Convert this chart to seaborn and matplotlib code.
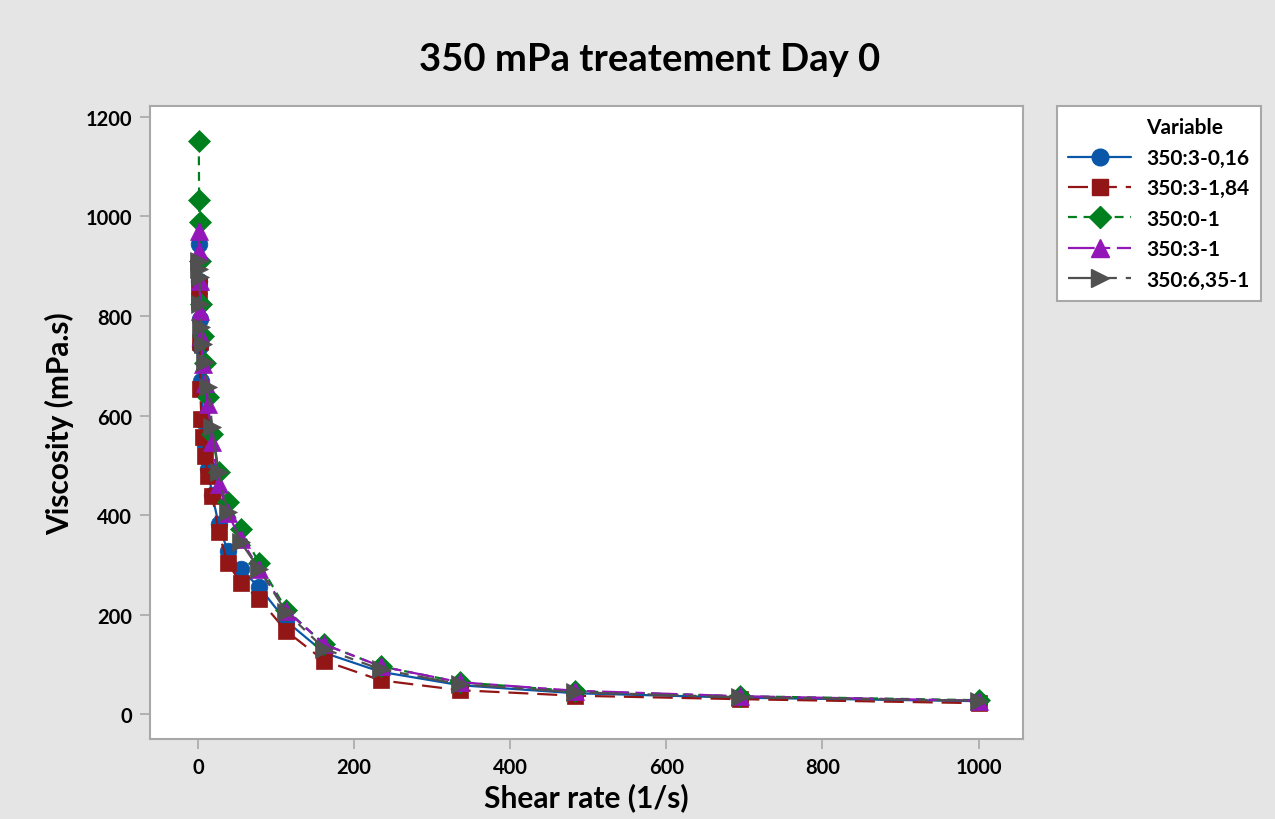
import numpy as np
import pandas as pd
import matplotlib
matplotlib.use("Agg")
import matplotlib.pyplot as plt
from matplotlib.lines import Line2D
import seaborn as sns

shear_rate = [1.0, 1.44, 2.07, 2.98, 4.28, 6.16, 8.86, 12.7, 18.3, 26.4,
              37.9, 54.6, 78.5, 113, 162, 234, 336, 483, 695, 1000]

visc_3_016 = [945, 870, 794, 740, 670, 590, 540, 492, 440, 382,
              328, 291, 255, 187, 123, 85, 58, 42, 33, 26]
visc_3_184 = [861, 830, 748, 653, 593, 557, 519, 478, 438, 366,
              304, 264, 231, 167, 107, 68, 48, 37, 30, 22]
visc_0_1 = [1152, 1033, 989, 911, 824, 760, 705, 637, 563, 486,
            426, 372, 303, 210, 140, 96, 64, 46, 36, 28]
visc_3_1 = [971, 931, 871, 810, 760, 703, 665, 623, 547, 462,
            404, 352, 292, 208, 140, 96, 64, 47, 36, 27]
visc_635_1 = [911, 895, 878, 824, 778, 744, 707, 657, 577, 486,
              406, 346, 291, 205, 131, 90, 60, 44, 34, 27]

series_names = ["350:3-0,16", "350:3-1,84", "350:0-1", "350:3-1", "350:6,35-1"]
series_values = [visc_3_016, visc_3_184, visc_0_1, visc_3_1, visc_635_1]
colors = ["#0a56a8", "#931616", "#007f1f", "#9316b8", "#505050"]
markers = ["o", "s", "D", "^", ">"]
linestyles = ["-", (0, (9, 4)), (0, (4, 3)), (0, (12, 3, 4, 3)), (0, (14, 4, 4, 4))]
msizes = [12, 12, 11, 13, 13]

sns.set_style("white")
plt.rcParams['font.family'] = ['Lato', 'DejaVu Sans']
plt.rcParams['text.color'] = 'black'
plt.rcParams['xtick.color'] = 'black'
plt.rcParams['ytick.color'] = 'black'
plt.rcParams['axes.labelcolor'] = 'black'

fig = plt.figure(figsize=(12.75, 8.2), dpi=100)
fig.patch.set_facecolor("#e5e5e5")
ax = fig.add_axes([150/1275, 1 - 740/820, (1023-150)/1275, (740-107)/820])
ax.set_facecolor("white")

handles = [Line2D([], [], linestyle="none", label="Variable")]
for name, vals, c, m, ls, ms in zip(series_names, series_values, colors, markers, linestyles, msizes):
    df = pd.DataFrame({"x": shear_rate, "y": vals})
    sns.lineplot(data=df, x="x", y="y", ax=ax, color=c, marker=m, markersize=ms,
                 markeredgecolor=c, markeredgewidth=0.5, linewidth=1.6,
                 linestyle=ls, estimator=None, sort=False)
    handles.append(Line2D([], [], color=c, marker=m, markersize=ms, markeredgecolor=c,
                          linewidth=1.6, linestyle=ls, label=name))

ax.set_xlim(-61.5, 1057)
ax.set_ylim(-50, 1222)
ax.set_xticks([0, 200, 400, 600, 800, 1000])
ax.set_yticks([0, 200, 400, 600, 800, 1000, 1200])
for s in ax.spines.values():
    s.set_color("#a8a8a8")
    s.set_linewidth(1.5)
ax.tick_params(axis="both", direction="out", length=7, width=1.2, color="#a8a8a8",
               labelsize=14.5, pad=6, bottom=True, left=True, labelcolor="black")
for lab in ax.get_xticklabels() + ax.get_yticklabels():
    lab.set_fontweight("bold")
ax.set_xlabel("Shear rate (1/s)", fontsize=21.5, fontweight="bold", labelpad=4)
ax.set_ylabel("Viscosity (mPa.s)", fontsize=21.5, fontweight="bold", labelpad=8)

fig.text(650/1275, 1 - 60/820, "350 mPa treatement Day 0", ha="center", va="center",
         fontsize=27.5, fontweight="bold")

leg = fig.legend(handles=handles, loc="upper left", bbox_to_anchor=(1057/1275, 1 - 107/820),
                 borderaxespad=0, fontsize=15, frameon=True,
                 fancybox=False, handlelength=3.0, borderpad=0.55, labelspacing=0.5,
                 handletextpad=0.75)
leg.get_frame().set_edgecolor("#a8a8a8")
leg.get_frame().set_facecolor("white")
leg.get_frame().set_alpha(1)
leg.get_frame().set_linewidth(1.5)
for t in leg.get_texts():
    t.set_fontweight("bold")

fig.savefig("out.png", dpi=100, facecolor=fig.get_facecolor())
